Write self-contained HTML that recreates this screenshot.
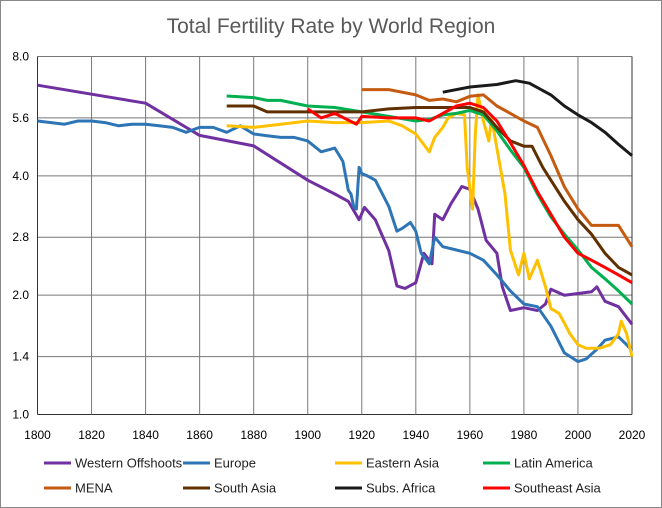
<!DOCTYPE html>
<html><head><meta charset="utf-8"><style>
body{margin:0;background:#fff;}
svg{display:block;font-family:"Liberation Sans",sans-serif;}
</style></head><body>
<svg id="c" width="662" height="508">
<rect x="0.5" y="0.5" width="661" height="507" fill="#fff" stroke="#888"/>
<text x="331" y="33" text-anchor="middle" font-size="21" fill="#595959">Total Fertility Rate by World Region</text>
<g id="grid"></g><g id="series"></g><g id="legend"></g>
</svg>
<script>
const yTicks=[1.0,1.4,2.0,2.8,4.0,5.6,8.0];
const xTicks=[1800,1820,1840,1860,1880,1900,1920,1940,1960,1980,2000,2020];
const wYears=[1800,1840,1860,1880,1900,1910,1915,1919,1921,1925,1930,1933,1936,1940,1943,1946,1947,1950,1953,1957,1960,1963,1966,1970,1972,1975,1980,1985,1988,1990,1995,2000,2005,2007,2010,2015,2020];
const wVals=[6.77,6.1,5.06,4.76,3.9,3.6,3.45,3.1,3.33,3.1,2.59,2.11,2.08,2.15,2.55,2.4,3.2,3.1,3.4,3.76,3.7,3.3,2.75,2.55,2.1,1.83,1.86,1.83,1.9,2.07,2.0,2.02,2.04,2.1,1.93,1.87,1.69];
const eYears=[1800,1805,1810,1815,1820,1825,1830,1835,1840,1845,1850,1855,1860,1865,1870,1875,1880,1885,1890,1895,1900,1905,1910,1913,1915,1916,1917,1918,1919,1920,1922,1925,1930,1933,1935,1938,1940,1942,1944,1945,1947,1950,1955,1960,1965,1970,1975,1980,1985,1990,1995,2000,2003,2007,2010,2015,2018,2020];
const eVals=[5.5,5.45,5.4,5.5,5.5,5.45,5.35,5.4,5.4,5.35,5.3,5.15,5.3,5.3,5.15,5.35,5.1,5.05,5.0,5.0,4.9,4.6,4.7,4.35,3.68,3.6,3.35,3.3,4.2,4.05,4.0,3.9,3.35,2.9,2.95,3.05,2.9,2.55,2.45,2.4,2.8,2.65,2.6,2.55,2.45,2.25,2.05,1.9,1.87,1.67,1.43,1.36,1.38,1.46,1.54,1.57,1.5,1.45];
const aYears=[1870,1880,1890,1900,1910,1920,1930,1935,1940,1945,1947,1950,1952,1955,1958,1959,1961,1962,1963,1965,1967,1968,1970,1973,1975,1978,1980,1982,1985,1988,1990,1993,1995,1997,2000,2003,2008,2012,2015,2016,2018,2020];
const aVals=[5.35,5.3,5.4,5.5,5.45,5.45,5.5,5.35,5.1,4.6,5.0,5.3,5.6,5.75,5.7,4.2,3.3,5.1,6.4,5.5,4.9,5.6,4.7,3.6,2.6,2.25,2.55,2.2,2.45,2.1,1.85,1.8,1.7,1.6,1.5,1.47,1.47,1.5,1.6,1.72,1.6,1.4];
const lYears=[1870,1880,1885,1890,1900,1910,1920,1930,1940,1945,1950,1955,1960,1965,1970,1975,1980,1985,1990,1995,2000,2005,2010,2015,2020];
const lVals=[6.36,6.3,6.2,6.2,6.0,5.95,5.8,5.65,5.5,5.55,5.7,5.75,5.85,5.7,5.2,4.65,4.2,3.6,3.15,2.85,2.6,2.35,2.2,2.05,1.9];
const mYears=[1920,1930,1940,1945,1950,1955,1960,1965,1970,1975,1980,1985,1990,1995,2000,2005,2010,2015,2020];
const mVals=[6.6,6.6,6.4,6.2,6.25,6.15,6.35,6.4,6.0,5.75,5.5,5.3,4.5,3.75,3.3,3.0,3.0,3.0,2.65];
const sYears=[1870,1880,1885,1900,1920,1930,1940,1960,1965,1970,1975,1980,1983,1987,1990,1995,2000,2005,2010,2015,2020];
const sVals=[6.0,6.0,5.8,5.8,5.8,5.9,5.95,5.95,5.8,5.3,4.9,4.75,4.75,4.2,3.9,3.45,3.1,2.85,2.55,2.35,2.25];
const fYears=[1950,1960,1970,1977,1982,1990,1995,2000,2005,2010,2015,2020];
const fVals=[6.5,6.7,6.8,6.95,6.85,6.4,6.0,5.7,5.45,5.15,4.8,4.5];
const rYears=[1900,1905,1910,1918,1920,1930,1940,1945,1950,1955,1960,1965,1970,1975,1980,1985,1990,1995,2000,2005,2010,2015,2020];
const rVals=[5.9,5.6,5.75,5.4,5.65,5.6,5.6,5.5,5.75,6.0,6.1,5.95,5.5,4.85,4.25,3.65,3.2,2.8,2.55,2.45,2.35,2.25,2.15];
const names=["Western Offshoots","Europe","Eastern Asia","Latin America","MENA","South Asia","Subs. Africa","Southeast Asia"];
const colors=["#7030a0","#2e75b6","#ffc000","#00b050","#c55a11","#603000","#1a1a1a","#ff0000"];
const NS="http://www.w3.org/2000/svg";
const X0=37.5,X1=632,Y8=56.5,Y1=414.5;
function xs(v){return X0+(v-1800)/220*(X1-X0);}
function ys(v){return Y1-Math.log(v)/Math.log(8)*(Y1-Y8);}
const grid=document.getElementById('grid');
yTicks.forEach(t=>{
 const l=document.createElementNS(NS,'line');
 l.setAttribute('x1',X0);l.setAttribute('x2',X1);l.setAttribute('y1',ys(t));l.setAttribute('y2',ys(t));
 l.setAttribute('stroke',t===1?'#333':'#777');l.setAttribute('stroke-width','1');
 
 
 grid.appendChild(l);
 const tx=document.createElementNS(NS,'text');
 tx.setAttribute('x',29);tx.setAttribute('y',ys(t)+4);tx.setAttribute('text-anchor','end');tx.setAttribute('font-size','12');
 tx.textContent=t.toFixed(1);
 
 
 grid.appendChild(tx);
});
xTicks.forEach(t=>{
 const l=document.createElementNS(NS,'line');
 l.setAttribute('x1',xs(t));l.setAttribute('x2',xs(t));l.setAttribute('y1',Y8);l.setAttribute('y2',Y1);
 l.setAttribute('stroke',(t===1800||t===2020)?'#333':'#777');l.setAttribute('stroke-width','1');
 
 
 grid.appendChild(l);
 const tx=document.createElementNS(NS,'text');
 tx.setAttribute('x',xs(t));tx.setAttribute('y',439);tx.setAttribute('text-anchor','middle');tx.setAttribute('font-size','12');
 tx.textContent=t;
 
 
 grid.appendChild(tx);
});
const data=[[wYears,wVals],[eYears,eVals],[aYears,aVals],[lYears,lVals],[mYears,mVals],[sYears,sVals],[fYears,fVals],[rYears,rVals]];
const order=[0,1,2,3,5,4,7,6];
const sg=document.getElementById('series');
order.forEach(i=>{
 const [yr,vs]=data[i];
 const p=document.createElementNS(NS,'polyline');
 p.setAttribute('points',yr.map((y,k)=>xs(y).toFixed(1)+','+ys(vs[k]).toFixed(1)).join(' '));
 p.setAttribute('fill','none');p.setAttribute('stroke',colors[i]);p.setAttribute('stroke-width','3');p.setAttribute('stroke-linejoin','round');
 
 
 sg.appendChild(p);
});
const lg=document.getElementById('legend');
const lx=[44,183,335,483];
names.forEach((n,i)=>{
 const x=lx[i%4],y=i<4?463:488;
 const g=document.createElementNS(NS,'g');
 
 
 const l=document.createElementNS(NS,'line');
 l.setAttribute('x1',x);l.setAttribute('x2',x+27);l.setAttribute('y1',y);l.setAttribute('y2',y);
 l.setAttribute('stroke',colors[i]);l.setAttribute('stroke-width','3');
 
 
 g.appendChild(l);
 const t=document.createElementNS(NS,'text');
 t.setAttribute('x',x+31);t.setAttribute('y',y+4.5);t.setAttribute('font-size','13');t.setAttribute('fill','#222');
 t.textContent=n;
 
 
 g.appendChild(t);
 lg.appendChild(g);
});
</script>
</body></html>
